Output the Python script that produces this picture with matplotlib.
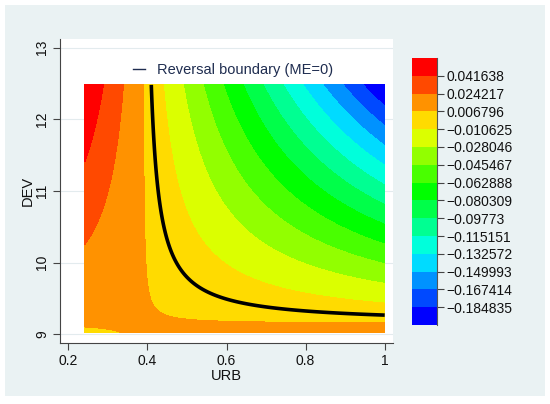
import numpy as np
import matplotlib
matplotlib.use('Agg')
import matplotlib.pyplot as plt
import matplotlib.colors as mcolors
from matplotlib.lines import Line2D
from matplotlib.patches import Rectangle

plt.rcParams['font.family'] = ['Liberation Sans', 'DejaVu Sans']

# marginal effect surface: ME = a + b*URB + c*DEV + d*URB*DEV
coef_const = -0.3603
coef_urb = 0.9479
coef_dev = 0.0402
coef_inter = -0.1036

urb_range = [0.242, 1.0]
dev_range = [9.03, 12.48]

cut_levels = [0.041638, 0.024217, 0.006796, -0.010625, -0.028046, -0.045467,
              -0.062888, -0.080309, -0.09773, -0.115151, -0.132572, -0.149993,
              -0.167414, -0.184835]

x_ticks = [0.2, 0.4, 0.6, 0.8, 1]
x_ticklabels = ['0.2', '0.4', '0.6', '0.8', '1']
y_ticks = [9, 10, 11, 12, 13]

# grid for the surface
urb = np.linspace(urb_range[0], urb_range[1], 400)
dev = np.linspace(dev_range[0], dev_range[1], 400)
U, D = np.meshgrid(urb, dev)
me = coef_const + coef_urb * U + coef_dev * D + coef_inter * U * D

levels = sorted(cut_levels)
bounds = [-1.0] + levels + [1.0]
n_bands = len(bounds) - 1
hues = np.linspace(240, 0, n_bands) / 360.0
band_colors = [mcolors.hsv_to_rgb((h, 1.0, 1.0)) for h in hues]

W, H = 550, 404
fig = plt.figure(figsize=(W / 100, H / 100), dpi=100, facecolor='white')
fig.patches.append(Rectangle((5 / W, 1 - 396 / H), 540 / W, 391 / H,
                             transform=fig.transFigure, facecolor='#eaf2f3',
                             edgecolor='none', zorder=-10))

ax = fig.add_axes([60 / W, 1 - 343 / H, 333 / W, 304 / H])
ax.set_facecolor('white')

cf = ax.contourf(U, D, me, levels=bounds, colors=band_colors, zorder=2)
ax.contour(U, D, me, levels=[0], colors='black', linewidths=2.6, zorder=3)

ax.set_xlim(0.179, 1.021)
ax.set_ylim(8.879, 13.12)
ax.set_xticks(x_ticks)
ax.set_xticklabels(x_ticklabels)
ax.set_yticks(y_ticks)
ax.set_yticklabels([str(t) for t in y_ticks], rotation=90, va='center')
ax.tick_params(axis='both', direction='out', length=5, width=0.8,
               color='#444444', labelsize=10, labelcolor='#111111', pad=3)
ax.grid(True, axis='y', color='#e3ebee', linewidth=0.8, zorder=0)
ax.set_axisbelow(True)
for s in ['top', 'right']:
    ax.spines[s].set_visible(False)
for s in ['left', 'bottom']:
    ax.spines[s].set_color('#444444')
    ax.spines[s].set_linewidth(0.8)

ax.set_xlabel('URB', fontsize=10.5, color='#111111', labelpad=1)
ax.set_ylabel('DEV', fontsize=10.5, color='#111111', labelpad=0)

handle = Line2D([], [], color='#1f2d50', linewidth=1.0)
ax.legend([handle], ['Reversal boundary (ME=0)'], loc='center',
          bbox_to_anchor=(0.52, 0.898), frameon=False, fontsize=10.5,
          handlelength=0.85, handletextpad=0.8, labelcolor='#1f2d50')

cax = fig.add_axes([412 / W, 1 - 325 / H, 25 / W, 267 / H])
cbar = fig.colorbar(cf, cax=cax, spacing='uniform')
cbar.set_ticks(levels)
cbar.set_ticklabels([f'{v:g}'.replace('-', '\u2212') if abs(v) >= 0.01 else f'{v:.6f}'
                     for v in levels])
cbar.outline.set_visible(False)
cax.plot([1, 1], [0, 1], transform=cax.transAxes, color='#555555',
         linewidth=0.8, clip_on=False)
cax.tick_params(direction='out', length=5, width=0.8, color='#444444',
                labelsize=10, labelcolor='#111111', pad=2)

fig.savefig('out.png', dpi=100, facecolor='white')
